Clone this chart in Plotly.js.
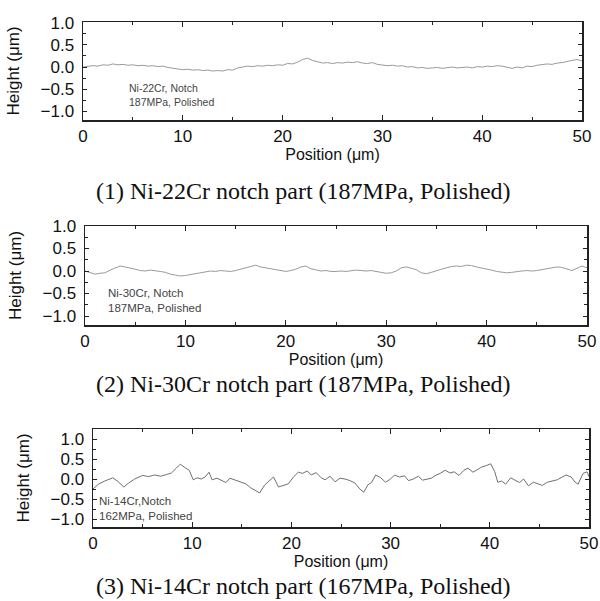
<!DOCTYPE html>
<html>
<head>
<meta charset="utf-8">
<script src="https://cdn.plot.ly/plotly-3.0.1.min.js"></script>
<style>html,body{margin:0;padding:0;background:#fff;}#chart{width:600px;height:601px;}</style>
</head>
<body>
<div id="chart"></div>
<script>
// Positions (µm) for profiles 1 and 2
const positionsA = [0,0.5,1,1.5,2,2.5,3,3.5,4,4.5,5,5.5,6,6.5,7,7.5,8,8.5,9,9.5,
  10,10.5,11,11.5,12,12.5,13,13.5,14,14.5,15,15.5,16,16.5,17,17.5,18,18.5,19,19.5,
  20,20.5,21,21.5,22,22.5,23,23.5,24,24.5,25,25.5,26,26.5,27,27.5,28,28.5,29,29.5,
  30,30.5,31,31.5,32,32.5,33,33.5,34,34.5,35,35.5,36,36.5,37,37.5,38,38.5,39,39.5,
  40,40.5,41,41.5,42,42.5,43,43.5,44,44.5,45,45.5,46,46.5,47,47.5,48,48.5,49,49.5,50];

// (1) Ni-22Cr notch, 187MPa, polished
const height22Cr = [0.00,0.01,0.03,0.02,0.05,0.04,0.07,0.05,0.06,0.04,
  0.05,0.03,0.04,0.02,0.03,0.01,0.02,-0.01,-0.03,-0.05,
  -0.06,-0.05,-0.07,-0.06,-0.08,-0.07,-0.09,-0.08,-0.09,-0.06,
  -0.07,-0.02,0.00,0.02,0.01,0.03,0.02,0.04,0.03,0.05,
  0.04,0.08,0.07,0.11,0.17,0.20,0.15,0.12,0.09,0.10,
  0.08,0.10,0.09,0.11,0.10,0.12,0.09,0.08,0.10,0.06,
  0.05,0.03,0.04,0.02,0.03,0.00,0.01,-0.02,-0.01,-0.03,
  -0.02,-0.01,-0.03,-0.02,0.00,-0.02,-0.01,0.00,-0.02,0.01,
  0.00,0.02,0.01,0.03,0.02,-0.01,-0.03,0.00,-0.02,0.02,
  0.01,0.04,0.05,0.07,0.06,0.09,0.10,0.13,0.15,0.17,0.14];

// (2) Ni-30Cr notch, 187MPa, polished
const height30Cr = [0.00,-0.03,-0.07,-0.05,-0.04,0.02,0.07,0.11,0.09,0.07,
  0.04,0.01,0.00,0.02,0.01,-0.01,-0.03,-0.07,-0.09,-0.11,
  -0.10,-0.08,-0.06,-0.03,-0.01,0.00,-0.01,0.01,0.00,-0.01,
  0.01,0.04,0.07,0.11,0.13,0.09,0.07,0.05,0.04,0.02,
  -0.01,0.01,0.04,0.09,0.11,0.05,0.03,0.00,0.01,-0.01,
  -0.01,0.00,-0.01,0.01,0.02,0.01,0.00,0.01,-0.01,-0.02,
  -0.05,-0.04,0.00,0.07,0.09,0.06,0.03,-0.04,-0.06,-0.03,
  0.01,0.04,0.07,0.10,0.11,0.10,0.13,0.12,0.09,0.07,
  0.04,0.02,-0.01,-0.02,-0.04,-0.03,-0.01,0.00,0.01,0.00,
  0.01,0.03,0.04,0.06,0.09,0.08,0.05,0.01,0.06,0.11,0.07];

// (3) Ni-14Cr notch, 162MPa, polished
const positions14Cr = [0,0.6,1.2,2.0,2.5,3.1,3.6,4.2,5.0,5.6,
  6.2,6.8,7.4,7.9,8.4,8.8,9.3,9.7,10.1,10.5,
  10.9,11.3,11.7,12.0,12.5,13.0,13.4,13.8,14.3,14.8,
  15.4,15.9,16.4,16.8,17.3,17.8,18.2,18.7,19.2,19.7,
  20.2,20.7,21.1,21.6,22.0,22.5,23.0,23.4,23.9,24.4,
  24.9,25.4,25.9,26.4,26.9,27.3,27.7,28.1,28.5,29.0,
  29.5,30.0,30.4,30.9,31.4,31.8,32.3,32.8,33.2,33.7,
  34.1,34.6,35.0,35.5,36.0,36.4,36.9,37.4,37.8,38.3,
  38.8,39.2,39.7,40.1,40.5,40.8,41.2,41.6,42.1,42.5,
  43.0,43.4,43.9,44.4,44.8,45.3,45.8,46.3,46.8,47.3,
  47.7,48.2,48.6,48.9,49.4,49.8,50.0];
const height14Cr = [-0.25,-0.12,-0.05,0.03,-0.06,-0.20,-0.10,0.00,0.09,0.06,
  0.10,0.07,0.11,0.15,0.27,0.37,0.28,0.22,-0.02,0.03,
  0.00,0.05,0.17,-0.02,0.02,-0.04,-0.09,0.02,-0.03,-0.06,
  -0.12,-0.22,-0.30,-0.35,-0.15,-0.05,0.05,-0.20,-0.16,-0.12,
  0.05,0.17,0.14,0.20,0.10,0.16,0.03,-0.02,0.07,-0.07,
  0.02,0.00,-0.04,-0.10,-0.25,-0.33,-0.15,-0.08,0.10,0.03,
  -0.08,0.00,0.10,0.05,0.08,-0.04,0.00,0.07,-0.03,0.00,
  0.02,0.10,0.14,0.22,0.15,0.18,0.09,0.22,0.27,0.17,
  0.25,0.30,0.34,0.38,0.18,-0.08,-0.05,-0.13,0.03,-0.03,
  -0.09,0.00,-0.17,-0.08,-0.12,-0.16,-0.08,-0.05,-0.02,0.05,
  0.10,0.05,-0.08,-0.13,0.14,0.18,0.06];

const xTitle = 'Position (μm)';
const yTitle = 'Height (μm)';
const captions = ['(1) Ni-22Cr notch part (187MPa, Polished)',
                  '(2) Ni-30Cr notch part (187MPa, Polished)',
                  '(3) Ni-14Cr notch part (167MPa, Polished)'];
const labels = [['Ni-22Cr, Notch','187MPa, Polished'],
                ['Ni-30Cr, Notch','187MPa, Polished'],
                ['Ni-14Cr,Notch','162MPa, Polished']];

const W = 600, H = 601;
const px = v => v / W;
const py = v => 1 - v / H;
// plot frames in pixels: [left, right, top, bottom]
const frames = [[83, 582, 22, 120], [85, 587, 226, 325], [93, 589, 429, 527]];
const yRanges = [[-1.2, 1.02], [-1.2, 1.0], [-1.2, 1.25]];

const sans = 'Liberation Sans, Arial, sans-serif';
const serif = 'Liberation Serif, Times New Roman, serif';

function xAxis(i) {
  const f = frames[i];
  return {
    domain: [px(f[0]), px(f[1])], anchor: 'y' + (i ? i + 1 : ''),
    range: [0, 50], dtick: 10, tick0: 0,
    ticks: 'inside', ticklen: 5, tickwidth: 1, tickcolor: '#222',
    minor: {dtick: 5, ticks: 'inside', ticklen: 3, tickcolor: '#222'},
    showline: true, mirror: 'allticks', linecolor: '#222', linewidth: 1.5,
    showgrid: false, zeroline: false,
    tickfont: {family: sans, size: 17, color: '#111'},
    title: {text: xTitle, font: {family: sans, size: 16, color: '#111'}, standoff: 4}
  };
}
function yAxis(i) {
  const f = frames[i];
  return {
    domain: [py(f[3]), py(f[2])], anchor: 'x' + (i ? i + 1 : ''),
    range: yRanges[i], dtick: 0.5, tick0: 0, tickformat: '.1f',
    ticks: 'inside', ticklen: 4, tickwidth: 1, tickcolor: '#222',
    minor: {dtick: 0.25, ticks: 'inside', ticklen: 3, tickcolor: '#222'},
    showline: true, mirror: 'allticks', linecolor: '#222', linewidth: 1.5,
    showgrid: false, zeroline: false, ticklabelstandoff: 4,
    tickfont: {family: sans, size: 17, color: '#111'},
    title: {text: yTitle, font: {family: sans, size: 17, color: '#111'}, standoff: 16}
  };
}

const series = [[positionsA, height22Cr, '#9a9a9a'],
                [positionsA, height30Cr, '#9a9a9a'],
                [positions14Cr, height14Cr, '#707070']];
const traces = series.map((s, i) => ({
  type: 'scatter', mode: 'lines', x: s[0], y: s[1],
  xaxis: 'x' + (i ? i + 1 : ''), yaxis: 'y' + (i ? i + 1 : ''),
  line: {color: s[2], width: 1}, showlegend: false, hoverinfo: 'skip'
}));

const captionY = [191, 384, 586];
// [left px, centre y px of the two-line label]
const labelPos = [[127, 95], [106, 300], [97, 508]];
const annotations = [];
captions.forEach((c, i) => annotations.push({
  xref: 'paper', yref: 'paper', x: px(303), y: py(captionY[i]),
  xanchor: 'center', yanchor: 'middle', showarrow: false, text: c,
  font: {family: serif, size: 24, color: '#111'}
}));
labels.forEach((l, i) => {
  const p = labelPos[i];
  annotations.push({xref: 'paper', yref: 'paper', x: px(p[0]), y: py(p[1]),
    xanchor: 'left', yanchor: 'middle', align: 'left', showarrow: false,
    text: l[0] + '<br>' + l[1],
    font: {family: sans, size: i === 0 ? 10.5 : 11.5, color: '#444'}});
});

const layout = {
  width: W, height: H, margin: {l: 0, r: 0, t: 0, b: 0},
  paper_bgcolor: '#fff', plot_bgcolor: '#fff', showlegend: false,
  xaxis: xAxis(0), yaxis: yAxis(0),
  xaxis2: xAxis(1), yaxis2: yAxis(1),
  xaxis3: xAxis(2), yaxis3: yAxis(2),
  annotations: annotations
};

Plotly.newPlot('chart', traces, layout, {staticPlot: true, displayModeBar: false});
</script>
</body>
</html>
